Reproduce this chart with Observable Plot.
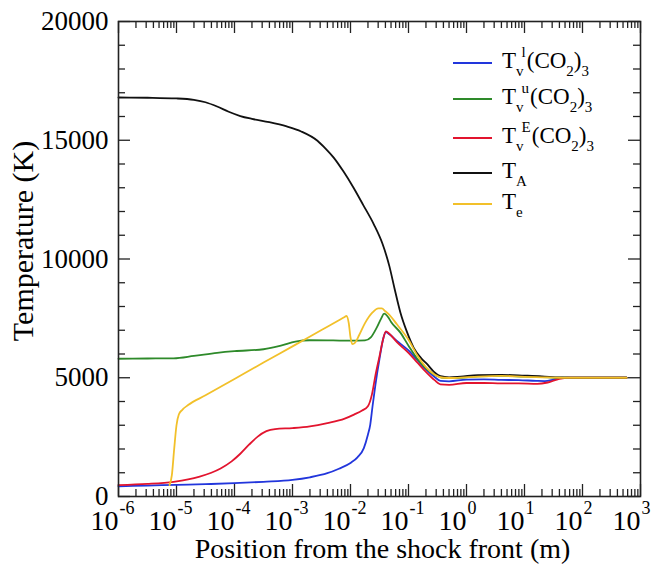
<!DOCTYPE html>
<html>
<head>
<meta charset="utf-8">
<script src="https://cdn.jsdelivr.net/npm/d3@7"></script>
<script src="https://cdn.jsdelivr.net/npm/@observablehq/plot@0.6"></script>
<style>
  html, body { margin: 0; padding: 0; background: #fff; }
</style>
</head>
<body>
<div id="chart"></div>
<script>
// ---- Data (x stored as log10 of position in metres) ----
const seriesNames = ["Tvl", "Tvu", "TvE", "TA", "Te"];
const seriesColors = ["#2236dc", "#2e8a2a", "#e2142e", "#111111", "#f2c02a"];

const tvlLog10X = [-6,-5.5,-5,-4.5,-4,-3.5,-3,-2.7,-2.4,-2.2,-2.0,-1.88,-1.77,-1.7,-1.66,-1.62,-1.57,-1.5,-1.43,-1.39,-1.33,-1.2,-1.0,-0.85,-0.7,-0.55,-0.45,-0.3,0,0.3,0.6,0.9,1.2,1.35,1.5,1.65,2.76];
const tvlT      = [430,460,490,520,560,620,700,810,980,1170,1410,1650,2040,2600,3020,3800,4710,5800,6700,6920,6830,6550,6150,5750,5350,5030,4870,4850,4920,4930,4910,4900,4870,4860,4920,5000,5000];

const tvuLog10X = [-6,-5.5,-5.05,-4.7,-4.3,-4.0,-3.5,-3.2,-2.95,-2.7,-2.3,-2.0,-1.75,-1.65,-1.55,-1.47,-1.42,-1.35,-1.3,-1.14,-1.0,-0.85,-0.7,-0.55,-0.4,-0.2,0.2,0.6,1.0,1.3,1.6,2.76];
const tvuT      = [5800,5810,5820,5920,6050,6120,6200,6350,6520,6580,6570,6560,6570,6700,7100,7500,7700,7550,7350,6900,6350,5800,5400,5130,5000,4990,5060,5080,5050,5030,5000,5000];

const tvELog10X = [-6,-5.5,-5.05,-4.8,-4.6,-4.4,-4.24,-4.05,-3.9,-3.75,-3.6,-3.45,-3.3,-3.0,-2.7,-2.4,-2.1,-1.94,-1.8,-1.7,-1.63,-1.57,-1.5,-1.44,-1.39,-1.33,-1.2,-1.0,-0.85,-0.7,-0.55,-0.45,-0.3,0,0.3,0.6,0.9,1.22,1.4,1.6,1.75,2.76];
const tvET      = [480,530,620,720,840,1000,1180,1480,1800,2180,2520,2750,2840,2880,2950,3090,3280,3450,3620,3800,4300,5100,5900,6600,6950,6850,6500,6050,5650,5250,4900,4720,4700,4780,4780,4760,4760,4740,4800,4950,5000,5000];

const taLog10X = [-6,-5.5,-5,-4.7,-4.5,-4.3,-4.1,-3.9,-3.7,-3.4,-3.1,-2.85,-2.57,-2.43,-2.29,-2.12,-1.95,-1.78,-1.6,-1.45,-1.33,-1.24,-1.14,-1.03,-0.91,-0.79,-0.67,-0.56,-0.45,-0.3,-0.1,0.2,0.6,1.0,1.3,1.6,2.0,2.76];
const taT      = [16800,16790,16760,16700,16600,16420,16200,16020,15900,15760,15580,15370,14980,14650,14270,13680,13010,12270,11470,10650,9700,8750,7750,6950,6260,5850,5550,5250,5070,5020,5050,5110,5120,5090,5060,5010,5000,5000];

const teLog10X = [-5.12,-5.08,-5.04,-5.0,-4.96,-4.9,-4.8,-4.5,-4.0,-3.5,-3.0,-2.5,-2.2,-2.1,-2.07,-2.03,-2.0,-1.97,-1.92,-1.85,-1.75,-1.62,-1.52,-1.46,-1.4,-1.35,-1.2,-1.0,-0.85,-0.7,-0.56,-0.4,-0.2,0.2,0.6,1.0,1.3,1.6,2.76];
const teT      = [480,900,2000,3000,3450,3650,3850,4260,4950,5640,6320,7010,7420,7560,7600,7300,6700,6420,6480,6800,7300,7750,7920,7920,7800,7700,7250,6600,5950,5450,5150,5000,4990,5050,5080,5040,5020,5000,5000];

// ---- Tick definitions ----
const xTickExponents = [-6,-5,-4,-3,-2,-1,0,1,2,3];
const yTickValues = [0, 5000, 10000, 15000, 20000];
const yMinorStep = 1000;
const xTitle = "Position from the shock front (m)";
const yTitle = "Temperature (K)";

// ---- Build table ----
const logs = [tvlLog10X, tvuLog10X, tvELog10X, taLog10X, teLog10X];
const temps = [tvlT, tvuT, tvET, taT, teT];
const rows = [];
seriesNames.forEach((name, s) => {
  logs[s].forEach((lx, i) => rows.push({series: name, x: Math.pow(10, lx), T: temps[s][i]}));
});

const xMajor = xTickExponents.map(e => Math.pow(10, e));
const xMinor = [];
for (const e of xTickExponents.slice(0, -1)) for (let m = 2; m <= 9; m++) xMinor.push(m * Math.pow(10, e));
const yMinor = [];
for (let v = 0; v <= 20000; v += yMinorStep) if (v % 5000 !== 0) yMinor.push(v);

const W = 657, H = 565;
const mL = 118, mR = 17, mT = 21, mB = 69;
const FW = W - mL - mR, FH = H - mT - mB;
const majorLen = 12, minorLen = 7;
const serif = "'Liberation Serif', 'Times New Roman', 'DejaVu Serif', serif";

const plot = Plot.plot({
  width: W,
  height: H,
  marginLeft: mL, marginRight: mR, marginTop: mT, marginBottom: mB,
  style: {fontFamily: serif, fontSize: "27px", background: "#fff", color: "#000", overflow: "visible"},
  x: {type: "log", domain: [1e-6, 1e3], axis: null},
  y: {domain: [0, 20000], axis: null},
  color: {domain: seriesNames, range: seriesColors},
  marks: [
    // ticks inward on all four sides
    Plot.tickX(xMajor, {x: d => d, insetTop: FH - majorLen, stroke: "#222", strokeWidth: 1.3}),
    Plot.tickX(xMinor, {x: d => d, insetTop: FH - minorLen, stroke: "#222", strokeWidth: 1.3}),
    Plot.tickX(xMajor, {x: d => d, insetBottom: FH - majorLen, stroke: "#222", strokeWidth: 1.3}),
    Plot.tickX(xMinor, {x: d => d, insetBottom: FH - minorLen, stroke: "#222", strokeWidth: 1.3}),
    Plot.tickY(yTickValues, {y: d => d, insetRight: FW - majorLen, stroke: "#222", strokeWidth: 1.3}),
    Plot.tickY(yMinor, {y: d => d, insetRight: FW - minorLen, stroke: "#222", strokeWidth: 1.3}),
    Plot.tickY(yTickValues, {y: d => d, insetLeft: FW - majorLen, stroke: "#222", strokeWidth: 1.3}),
    Plot.tickY(yMinor, {y: d => d, insetLeft: FW - minorLen, stroke: "#222", strokeWidth: 1.3}),
    // curves
    Plot.line(rows, {x: "x", y: "T", z: "series", stroke: "series", strokeWidth: 1.8, curve: "monotone-x"}),
    Plot.frame({stroke: "#222", strokeWidth: 1.6}),
    // y tick labels
    Plot.axisY(yTickValues, {tickSize: 0, tickPadding: 10, tickFormat: d3.format("d"), label: null, fontSize: 27}),
    // x tick labels: "10" with superscript exponent
    Plot.text(xTickExponents, {x: e => Math.pow(10, e), frameAnchor: "bottom", text: () => "10", textAnchor: "end", lineAnchor: "middle", dx: 0, dy: 25, fontSize: 28}),
    Plot.text(xTickExponents, {x: e => Math.pow(10, e), frameAnchor: "bottom", text: e => String(e), textAnchor: "start", lineAnchor: "middle", dx: 1, dy: 12, fontSize: 18}),
    // axis titles
    Plot.text([xTitle], {frameAnchor: "bottom", text: d => d, textAnchor: "middle", lineAnchor: "middle", dy: 53, dx: 3, fontSize: 28}),
    Plot.text([yTitle], {frameAnchor: "left", text: d => d, textAnchor: "middle", lineAnchor: "middle", rotate: -90, dx: -95, dy: -18, fontSize: 30})
  ]
});

// ---- Legend (inside frame, top right) ----
const legendItems = [
  {sup: "l", color: seriesColors[0], co2: true},
  {sup: "u", color: seriesColors[1], co2: true},
  {sup: "E", color: seriesColors[2], co2: true},
  {sub: "A", color: seriesColors[3]},
  {sub: "e", color: seriesColors[4]}
];
const rowY = [63, 99, 138, 173, 204];
const g = d3.select(plot).append("g").attr("font-family", serif).attr("text-anchor", "start");
legendItems.forEach((it, i) => {
  const y = rowY[i];
  g.append("line").attr("x1", 453).attr("x2", 492).attr("y1", y).attr("y2", y)
    .attr("stroke", it.color).attr("stroke-width", 2);
  const t = g.append("text").attr("x", 502).attr("y", y + 5).attr("font-size", 23).attr("fill", "#000").attr("text-anchor", "start");
  t.append("tspan").text("T");
  if (it.co2) {
    t.append("tspan").attr("font-size", 15).attr("dy", 8).text("v");
    t.append("tspan").attr("font-size", 15).attr("dy", -19).attr("dx", -2).text(it.sup);
    t.append("tspan").attr("font-size", 23).attr("dy", 11).attr("dx", 1).text("(CO");
    t.append("tspan").attr("font-size", 15).attr("dy", 8).text("2");
    t.append("tspan").attr("font-size", 23).attr("dy", -8).text(")");
    t.append("tspan").attr("font-size", 15).attr("dy", 8).text("3");
  } else {
    t.append("tspan").attr("font-size", 15).attr("dy", 8).text(it.sub);
  }
});

document.getElementById("chart").appendChild(plot);
</script>
</body>
</html>
